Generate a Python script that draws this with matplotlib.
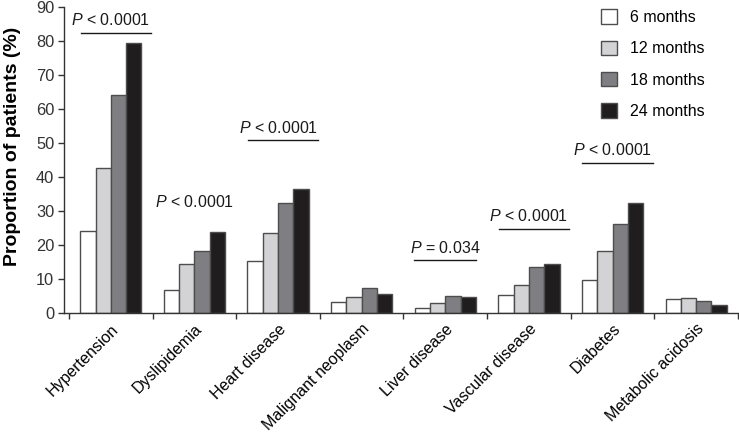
import numpy as np
import matplotlib
matplotlib.use("Agg")
import matplotlib.pyplot as plt

plt.rcParams["font.family"] = ["Liberation Sans", "DejaVu Sans"]
plt.rcParams["mathtext.fontset"] = "custom"
plt.rcParams["mathtext.rm"] = "Liberation Sans"
plt.rcParams["mathtext.it"] = "Liberation Sans:italic"

# ---------------------------------------------------------------------------
# Data
# ---------------------------------------------------------------------------
categories = ["Hypertension", "Dyslipidemia", "Heart disease", "Malignant neoplasm",
              "Liver disease", "Vascular disease", "Diabetes", "Metabolic acidosis"]
series_labels = ["6 months", "12 months", "18 months", "24 months"]
m6 = [24.0, 6.8, 15.4, 3.2, 1.6, 5.2, 9.8, 4.0]
m12 = [42.5, 14.4, 23.4, 4.8, 2.8, 8.2, 18.3, 4.3]
m18 = [64.0, 18.2, 32.3, 7.3, 4.9, 13.5, 26.2, 3.4]
m24 = [79.2, 23.8, 36.5, 5.6, 4.6, 14.5, 32.4, 2.4]
series_colors = ["#ffffff", "#d3d3d5", "#7f7f83", "#1f1d1e"]

# p-value annotations: (group index, text, text y, line y or None)
p_groups = [0, 1, 2, 4, 5, 6]
p_texts = ["< 0.0001", "< 0.0001", "< 0.0001", "= 0.034", "< 0.0001", "< 0.0001"]
p_text_y = [86.0, 32.5, 54.5, 19.0, 28.5, 48.0]
p_line_y = [82.3, None, 50.7, 15.7, 24.8, 44.2]

# ---------------------------------------------------------------------------
# Plot
# ---------------------------------------------------------------------------
fig = plt.figure(figsize=(7.39, 4.32), dpi=100)
ax = fig.add_axes([0.0866, 0.2755, 0.912, 0.709])

x = np.arange(len(categories))
width = 0.183
offsets = [-1.5, -0.5, 0.5, 1.5]
for vals, lab, col, off in zip([m6, m12, m18, m24], series_labels, series_colors, offsets):
    ax.bar(x + off * width, vals, width, color=col, edgecolor="#4d4d4d",
           linewidth=1.0, label=lab, zorder=2)

for g, t, ty, ly in zip(p_groups, p_texts, p_text_y, p_line_y):
    ax.text(g, ty, r"$\it{P}$ " + t, ha="center", va="center", fontsize=11.5, color="#1a1a1a")
    if ly is not None:
        if t.startswith("="):
            ax.plot([g - 0.37, g + 0.37], [ly, ly], color="#1a1a1a", lw=1.0)
        else:
            ax.plot([g - 0.36, g + 0.48], [ly, ly], color="#1a1a1a", lw=1.0)

ax.set_ylim(0, 90)
ax.set_xlim(-0.56, 7.5)
ax.set_yticks(np.arange(0, 91, 10))
ax.tick_params(axis="y", labelsize=11.8, length=4, width=1, colors="#333333", pad=3)

# boundary ticks (major) and category labels (minor)
ax.set_xticks(np.arange(-0.5, 7.6, 1.0))
ax.set_xticklabels([])
ax.tick_params(axis="x", which="major", length=4, width=1, color="#333333")
ax.set_xticks(x, minor=True)
ax.set_xticklabels(categories, minor=True, rotation=45, ha="right",
                   rotation_mode="anchor", fontsize=11.5)
ax.tick_params(axis="x", which="minor", length=0, pad=6)

for s in ["top", "right"]:
    ax.spines[s].set_visible(False)
for s in ["left", "bottom"]:
    ax.spines[s].set_color("#333333")
    ax.spines[s].set_linewidth(1.0)

ax.set_ylabel("Proportion of patients (%)", fontsize=14, fontweight="bold")
ax.yaxis.set_label_coords(-0.064, 0.544)

leg = ax.legend(loc="upper right", bbox_to_anchor=(0.972, 1.038), frameon=False,
                fontsize=11.5, handlelength=1.0, handleheight=1.0,
                labelspacing=0.98, handletextpad=0.8)

fig.savefig("out.png", dpi=100)
